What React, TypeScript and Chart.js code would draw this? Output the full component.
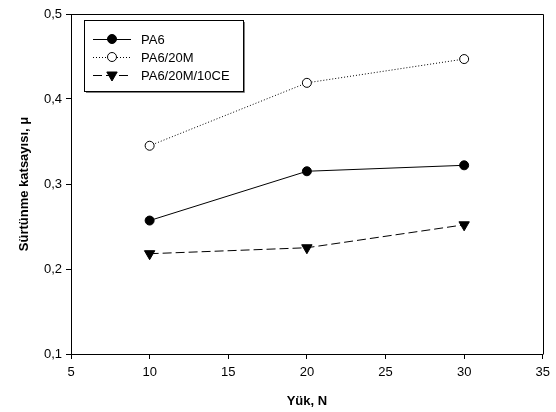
import React, { useEffect, useRef } from 'react';
import { Chart, registerables } from 'chart.js';
Chart.register(...registerables);

const loads = [10, 20, 30];
const pa6 = [0.257, 0.315, 0.322];
const pa6_20m = [0.345, 0.419, 0.447];
const pa6_20m_10ce = [0.218, 0.225, 0.252];
const seriesLabels = ['PA6', 'PA6/20M', 'PA6/20M/10CE'];
const xTicks = [5, 10, 15, 20, 25, 30, 35];
const yTicks = [0.1, 0.2, 0.3, 0.4, 0.5];
const xTitle = 'Yük, N';
const yTitle = 'Sürtünme katsayısı, μ';

const FONT = '"Liberation Sans", Arial, sans-serif';

function drawMarker(ctx: CanvasRenderingContext2D, style: string, x: number, y: number, r: number, fill: string) {
  ctx.save();
  ctx.setLineDash([]);
  ctx.lineWidth = 1;
  ctx.strokeStyle = '#000';
  ctx.fillStyle = fill;
  ctx.beginPath();
  if (style === 'triangle') {
    const h = r * Math.sqrt(3) / 2;
    ctx.moveTo(x - h, y - r / 2);
    ctx.lineTo(x + h, y - r / 2);
    ctx.lineTo(x, y + r);
    ctx.closePath();
  } else {
    ctx.arc(x, y, r, 0, Math.PI * 2);
  }
  ctx.fill();
  ctx.stroke();
  ctx.restore();
}

const framePlugin = {
  id: 'frame',
  afterDraw(chart: any) {
    const { ctx, chartArea } = chart;
    ctx.save();
    ctx.strokeStyle = '#000';
    ctx.lineWidth = 1;
    ctx.beginPath();
    ctx.moveTo(Math.round(chartArea.left) + 0.5, Math.round(chartArea.top) + 0.5);
    ctx.lineTo(Math.round(chartArea.right) + 0.5, Math.round(chartArea.top) + 0.5);
    ctx.lineTo(Math.round(chartArea.right) + 0.5, Math.round(chartArea.bottom) + 0.5);
    ctx.stroke();
    ctx.restore();
  },
};

const legendPlugin = {
  id: 'boxLegend',
  afterDraw(chart: any) {
    const { ctx, chartArea } = chart;
    const x0 = Math.round(chartArea.left) + 13;
    const y0 = Math.round(chartArea.top) + 6;
    const w = 159;
    const h = 71;
    ctx.save();
    ctx.fillStyle = '#fff';
    ctx.fillRect(x0, y0, w, h);
    ctx.strokeStyle = '#000';
    ctx.lineWidth = 1;
    ctx.strokeRect(x0 + 0.5, y0 + 0.5, w, h);
    ctx.strokeStyle = '#808080';
    ctx.beginPath();
    ctx.moveTo(x0 + w + 1.5, y0 + 2);
    ctx.lineTo(x0 + w + 1.5, y0 + h + 1.5);
    ctx.lineTo(x0 + 2, y0 + h + 1.5);
    ctx.stroke();
    chart.data.datasets.forEach((ds: any, i: number) => {
      const y = y0 + 19 + i * 18;
      ctx.save();
      ctx.strokeStyle = '#000';
      ctx.lineWidth = 1;
      ctx.setLineDash(ds.borderDash || []);
      ctx.beginPath();
      ctx.moveTo(x0 + 9, y + 0.5);
      ctx.lineTo(x0 + 47, y + 0.5);
      ctx.stroke();
      ctx.restore();
      drawMarker(ctx, ds.pointStyle, x0 + 28, y, ds.pointRadius, ds.pointBackgroundColor);
      ctx.fillStyle = '#000';
      ctx.font = '13px ' + FONT;
      ctx.textBaseline = 'middle';
      ctx.textAlign = 'left';
      ctx.fillText(ds.label, x0 + 57, y + 1);
    });
    ctx.restore();
  },
};

export default function App() {
  const ref = useRef<HTMLCanvasElement>(null);
  useEffect(() => {
    document.body.style.margin = '0';
    const mk = (xs: number[], ys: number[]) => xs.map((x, i) => ({ x, y: ys[i] }));
    const chart = new Chart(ref.current!, {
      type: 'line',
      data: {
        datasets: [
          {
            label: seriesLabels[0],
            data: mk(loads, pa6),
            borderColor: '#000',
            borderWidth: 1,
            borderDash: [],
            pointStyle: 'circle',
            pointRadius: 4.5,
            pointBackgroundColor: '#000',
            pointBorderColor: '#000',
            pointBorderWidth: 1,
          },
          {
            label: seriesLabels[1],
            data: mk(loads, pa6_20m),
            borderColor: '#000',
            borderWidth: 1,
            borderDash: [1, 2],
            pointStyle: 'circle',
            pointRadius: 4.5,
            pointBackgroundColor: '#fff',
            pointBorderColor: '#000',
            pointBorderWidth: 1,
          },
          {
            label: seriesLabels[2],
            data: mk(loads, pa6_20m_10ce),
            borderColor: '#000',
            borderWidth: 1,
            borderDash: [9, 4],
            pointStyle: 'triangle',
            pointRotation: 180,
            pointRadius: 6,
            pointBackgroundColor: '#000',
            pointBorderColor: '#000',
            pointBorderWidth: 1,
          },
        ] as any,
      },
      options: {
        responsive: false,
        animation: false,
        layout: { padding: { left: 0, top: 14, right: 13, bottom: 0 } },
        plugins: { legend: { display: false }, tooltip: { enabled: false } },
        scales: {
          x: {
            type: 'linear',
            min: xTicks[0],
            max: xTicks[xTicks.length - 1],
            afterBuildTicks: (s: any) => { s.ticks = xTicks.map((v) => ({ value: v })); },
            afterFit: (s: any) => { s.height = 58; },
            grid: { drawOnChartArea: false, tickLength: 5, color: '#000' },
            border: { display: true, color: '#000' },
            ticks: {
              color: '#000',
              padding: 6,
              maxRotation: 0,
              font: { family: FONT, size: 13 },
              callback: (v: any) => String(v),
            },
            title: {
              display: true,
              text: xTitle,
              color: '#000',
              font: { family: FONT, size: 13, weight: 'bold' },
              padding: { top: 0, bottom: 3 },
            },
          },
          y: {
            type: 'linear',
            min: yTicks[0],
            max: yTicks[yTicks.length - 1],
            afterBuildTicks: (s: any) => { s.ticks = yTicks.map((v) => ({ value: v })); },
            afterFit: (s: any) => { s.width = 71; },
            grid: { drawOnChartArea: false, tickLength: 5, color: '#000' },
            border: { display: true, color: '#000' },
            ticks: {
              color: '#000',
              padding: 4,
              font: { family: FONT, size: 13 },
              callback: (v: any) => Number(v).toFixed(1).replace('.', ','),
            },
            title: {
              display: true,
              text: yTitle,
              color: '#000',
              font: { family: FONT, size: 13, weight: 'bold' },
              padding: { top: 17, bottom: 0 },
            },
          },
        },
      } as any,
      plugins: [framePlugin, legendPlugin],
    });
    return () => chart.destroy();
  }, []);
  return (
    <div style={{ width: 556, height: 412 }}>
      <canvas ref={ref} width={556} height={412} />
    </div>
  );
}
